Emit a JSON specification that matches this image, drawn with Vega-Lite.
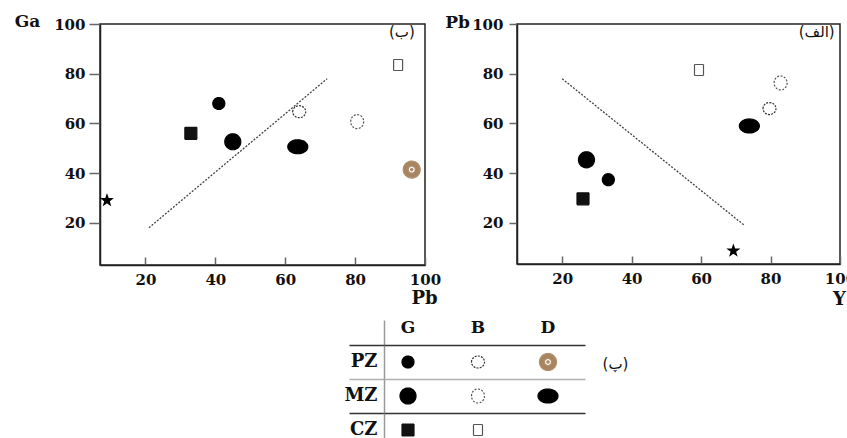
{
  "$schema": "https://vega.github.io/schema/vega-lite/v6.json",
  "background": "white",
  "padding": {"left": 13, "top": 11, "right": 0, "bottom": 0},
  "config": {
    "view": {"stroke": "#222", "strokeWidth": 1.5},
    "axis": {"labelFont": "DejaVu Serif", "labelFontWeight": "bold", "labelFontSize": 15, "labelColor": "#111", "titleFont": "DejaVu Serif", "titleFontWeight": "bold", "titleColor": "#111", "domainColor": "#222", "domainWidth": 1.5, "tickColor": "#666", "tickWidth": 1.5, "grid": false, "labelFlush": false}
  },
  "datasets": {
    "left": [
      {"Pb": 9, "Ga": 29, "t": "star"},
      {"Pb": 33, "Ga": 56, "t": "CZ-G"},
      {"Pb": 41, "Ga": 68, "t": "PZ-G"},
      {"Pb": 45, "Ga": 52.6, "t": "MZ-G"},
      {"Pb": 63.6, "Ga": 50.6, "t": "MZ-D"},
      {"Pb": 64, "Ga": 64.7, "t": "PZ-B"},
      {"Pb": 80.6, "Ga": 60.7, "t": "MZ-B"},
      {"Pb": 92.3, "Ga": 83.5, "t": "CZ-B"},
      {"Pb": 96.2, "Ga": 41.4, "t": "PZ-D"}
    ],
    "leftLine": [{"Pb": 21, "Ga": 18}, {"Pb": 72, "Ga": 78}],
    "right": [
      {"Y": 59.4, "Pb": 81.5, "t": "CZ-B"},
      {"Y": 82.9, "Pb": 76.3, "t": "MZ-B"},
      {"Y": 79.7, "Pb": 66, "t": "PZ-B"},
      {"Y": 73.9, "Pb": 59, "t": "MZ-D"},
      {"Y": 27, "Pb": 45.4, "t": "MZ-G"},
      {"Y": 33.3, "Pb": 37.4, "t": "PZ-G"},
      {"Y": 26, "Pb": 29.7, "t": "CZ-G"},
      {"Y": 69.3, "Pb": 8.8, "t": "star"}
    ],
    "rightLine": [{"Y": 20, "Pb": 78}, {"Y": 72.5, "Pb": 19}],
    "legend": [
      {"zone": "PZ", "rock": "G", "t": "PZ-G"},
      {"zone": "PZ", "rock": "B", "t": "PZ-B"},
      {"zone": "PZ", "rock": "D", "t": "PZ-D"},
      {"zone": "MZ", "rock": "G", "t": "MZ-G"},
      {"zone": "MZ", "rock": "B", "t": "MZ-B"},
      {"zone": "MZ", "rock": "D", "t": "MZ-D"},
      {"zone": "CZ", "rock": "G", "t": "CZ-G"},
      {"zone": "CZ", "rock": "B", "t": "CZ-B"}
    ]
  },
  "spacing": 9,
  "vconcat": [
    {
      "spacing": 1,
      "hconcat": [
        {
          "width": 325,
          "height": 241,
          "layer": [
            {
              "data": {"name": "leftLine"},
              "mark": {"type": "line", "strokeDash": [2, 1.5], "color": "#444", "strokeWidth": 1.3},
              "encoding": {
                "x": {"field": "Pb", "type": "quantitative", "scale": {"domain": [7, 100], "nice": false, "zero": false},
                  "axis": {"values": [20, 40, 60, 80, 100], "tickSize": -8, "labelPadding": 15, "title": "Pb", "titleFontSize": 18, "titleX": 324, "titleY": 33, "titleAlign": "center", "titleBaseline": "middle"}},
                "y": {"field": "Ga", "type": "quantitative", "scale": {"domain": [3, 100], "nice": false, "zero": false},
                  "axis": {"values": [20, 40, 60, 80, 100], "tickSize": 11, "labelPadding": 4, "title": "Ga", "titleFontSize": 17, "titleAngle": 0, "titleX": -73, "titleY": -3, "titleAlign": "center", "titleBaseline": "middle"}}
              }
            },
            {
              "data": {"name": "left"},
              "mark": {"type": "point", "filled": true, "size": 400, "strokeWidth": 1.2, "opacity": 1},
              "encoding": {
                "x": {"field": "Pb", "type": "quantitative"},
                "y": {"field": "Ga", "type": "quantitative"},
                "shape": {"field": "t", "type": "nominal", "legend": null, "scale": {"domain": ["PZ-G","MZ-G","PZ-B","MZ-B","PZ-D","MZ-D","CZ-G","CZ-B","star"], "range": ["M-0.6,0A0.6,0.6,0,1,1,0.6,0A0.6,0.6,0,1,1,-0.6,0Z","M-0.8,0A0.8,0.8,0,1,1,0.8,0A0.8,0.8,0,1,1,-0.8,0Z","M-0.65,0A0.65,0.6,0,1,1,0.65,0A0.65,0.6,0,1,1,-0.65,0Z","M-0.65,0A0.65,0.7,0,1,1,0.65,0A0.65,0.7,0,1,1,-0.65,0Z","M-0.85,0A0.85,0.85,0,1,1,0.85,0A0.85,0.85,0,1,1,-0.85,0ZM-0.35,0A0.35,0.35,0,1,0,0.35,0A0.35,0.35,0,1,0,-0.35,0ZM-0.12,0A0.12,0.12,0,1,1,0.12,0A0.12,0.12,0,1,1,-0.12,0Z","M-1,0A1,0.7,0,1,1,1,0A1,0.7,0,1,1,-1,0Z","M-0.6,-0.6H0.6V0.6H-0.6Z","M-0.45,-0.55H0.45V0.55H-0.45Z","M0,-0.55L0.129,-0.178L0.523,-0.17L0.209,0.068L0.323,0.445L0,0.22L-0.323,0.445L-0.209,0.068L-0.523,-0.17L-0.129,-0.178Z"]}},
                "fill": {"field": "t", "type": "nominal", "legend": null, "scale": {"domain": ["PZ-G","MZ-G","PZ-B","MZ-B","PZ-D","MZ-D","CZ-G","CZ-B","star"], "range": ["#000","#000","#fff","#fff","#a8845f","#000","#111","#fff","#000"]}},
                "stroke": {"field": "t", "type": "nominal", "legend": null, "scale": {"domain": ["PZ-G","MZ-G","PZ-B","MZ-B","PZ-D","MZ-D","CZ-G","CZ-B","star"], "range": ["#000","#000","#333","#555","#b08f6e","#000","#111","#555","#000"]}},
                "strokeDash": {"field": "t", "type": "nominal", "legend": null, "scale": {"domain": ["PZ-G","MZ-G","PZ-B","MZ-B","PZ-D","MZ-D","CZ-G","CZ-B","star"], "range": [[1,0],[1,0],[2,1.2],[2,1.5],[1,0],[1,0],[1,0],[1,0],[1,0]]}}
              }
            },
            {
              "data": {"values": [{}]},
              "mark": {"type": "text", "text": "(ب)", "font": "DejaVu Sans", "fontSize": 15, "color": "#111"},
              "encoding": {"x": {"datum": 93.4}, "y": {"datum": 96.8}}
            }
          ]
        },
        {
          "width": 323,
          "height": 240,
          "layer": [
            {
              "data": {"name": "rightLine"},
              "mark": {"type": "line", "strokeDash": [2, 1.5], "color": "#444", "strokeWidth": 1.3},
              "encoding": {
                "x": {"field": "Y", "type": "quantitative", "scale": {"domain": [7, 100], "nice": false, "zero": false},
                  "axis": {"values": [20, 40, 60, 80, 100], "tickSize": -8, "labelPadding": 15, "title": "Y", "titleFontSize": 18, "titleX": 322, "titleY": 35, "titleAlign": "center", "titleBaseline": "middle"}},
                "y": {"field": "Pb", "type": "quantitative", "scale": {"domain": [3.5, 100], "nice": false, "zero": false},
                  "axis": {"values": [20, 40, 60, 80, 100], "tickSize": 8, "labelPadding": 6, "title": "Pb", "titleFontSize": 17, "titleAngle": 0, "titleX": -60, "titleY": -2, "titleAlign": "center", "titleBaseline": "middle"}}
              }
            },
            {
              "data": {"name": "right"},
              "mark": {"type": "point", "filled": true, "size": 400, "strokeWidth": 1.2, "opacity": 1},
              "encoding": {
                "x": {"field": "Y", "type": "quantitative"},
                "y": {"field": "Pb", "type": "quantitative"},
                "shape": {"field": "t", "type": "nominal", "legend": null, "scale": {"domain": ["PZ-G","MZ-G","PZ-B","MZ-B","PZ-D","MZ-D","CZ-G","CZ-B","star"], "range": ["M-0.6,0A0.6,0.6,0,1,1,0.6,0A0.6,0.6,0,1,1,-0.6,0Z","M-0.8,0A0.8,0.8,0,1,1,0.8,0A0.8,0.8,0,1,1,-0.8,0Z","M-0.65,0A0.65,0.6,0,1,1,0.65,0A0.65,0.6,0,1,1,-0.65,0Z","M-0.65,0A0.65,0.7,0,1,1,0.65,0A0.65,0.7,0,1,1,-0.65,0Z","M-0.85,0A0.85,0.85,0,1,1,0.85,0A0.85,0.85,0,1,1,-0.85,0ZM-0.35,0A0.35,0.35,0,1,0,0.35,0A0.35,0.35,0,1,0,-0.35,0ZM-0.12,0A0.12,0.12,0,1,1,0.12,0A0.12,0.12,0,1,1,-0.12,0Z","M-1,0A1,0.7,0,1,1,1,0A1,0.7,0,1,1,-1,0Z","M-0.6,-0.6H0.6V0.6H-0.6Z","M-0.45,-0.55H0.45V0.55H-0.45Z","M0,-0.55L0.129,-0.178L0.523,-0.17L0.209,0.068L0.323,0.445L0,0.22L-0.323,0.445L-0.209,0.068L-0.523,-0.17L-0.129,-0.178Z"]}},
                "fill": {"field": "t", "type": "nominal", "legend": null, "scale": {"domain": ["PZ-G","MZ-G","PZ-B","MZ-B","PZ-D","MZ-D","CZ-G","CZ-B","star"], "range": ["#000","#000","#fff","#fff","#a8845f","#000","#111","#fff","#000"]}},
                "stroke": {"field": "t", "type": "nominal", "legend": null, "scale": {"domain": ["PZ-G","MZ-G","PZ-B","MZ-B","PZ-D","MZ-D","CZ-G","CZ-B","star"], "range": ["#000","#000","#333","#555","#b08f6e","#000","#111","#555","#000"]}},
                "strokeDash": {"field": "t", "type": "nominal", "legend": null, "scale": {"domain": ["PZ-G","MZ-G","PZ-B","MZ-B","PZ-D","MZ-D","CZ-G","CZ-B","star"], "range": [[1,0],[1,0],[2,1.2],[2,1.5],[1,0],[1,0],[1,0],[1,0],[1,0]]}}
              }
            },
            {
              "data": {"values": [{}]},
              "mark": {"type": "text", "text": "(الف)", "font": "DejaVu Sans", "fontSize": 15, "color": "#111"},
              "encoding": {"x": {"datum": 93.3}, "y": {"datum": 96.8}}
            }
          ]
        }
      ]
    },
    {
      "width": 472,
      "height": 102,
      "view": {"stroke": null},
      "data": {"name": "legend"},
      "layer": [
        {
          "mark": {"type": "point", "filled": true, "size": 400, "strokeWidth": 1.2, "opacity": 1},
          "encoding": {
            "x": {"field": "rock", "type": "nominal", "sort": ["G", "B", "D"],
              "scale": {"type": "band", "domain": ["G", "B", "D"], "range": [284, 472], "paddingInner": 0.314, "paddingOuter": 0},
              "axis": {"orient": "top", "title": null, "domain": false, "grid": false, "bandPosition": 0, "tickSize": 25,
                "tickColor": {"condition": {"test": "datum.value === 'G'", "value": "#999"}, "value": "transparent"},
                "labelPadding": -7, "labelBaseline": "middle", "labelAngle": 0, "labelFontSize": 17}},
            "y": {"field": "zone", "type": "nominal", "sort": ["PZ", "MZ", "CZ"],
              "scale": {"type": "band", "domain": ["PZ", "MZ", "CZ"], "paddingInner": 0, "paddingOuter": 0},
              "axis": {"orient": "left", "offset": -284, "title": null,
                "grid": false, "bandPosition": 0,
                "tickSize": 35, "tickWidth": 1.5,
                "tickColor": {"condition": {"test": "datum.value === 'MZ'", "value": "#b0b0b0"}, "value": "#333"},
                "labelPadding": -28, "labelFontSize": 18, "domainColor": "#999"}},
            "shape": {"field": "t", "type": "nominal", "legend": null, "scale": {"domain": ["PZ-G","MZ-G","PZ-B","MZ-B","PZ-D","MZ-D","CZ-G","CZ-B","star"], "range": ["M-0.6,0A0.6,0.6,0,1,1,0.6,0A0.6,0.6,0,1,1,-0.6,0Z","M-0.8,0A0.8,0.8,0,1,1,0.8,0A0.8,0.8,0,1,1,-0.8,0Z","M-0.65,0A0.65,0.6,0,1,1,0.65,0A0.65,0.6,0,1,1,-0.65,0Z","M-0.65,0A0.65,0.7,0,1,1,0.65,0A0.65,0.7,0,1,1,-0.65,0Z","M-0.85,0A0.85,0.85,0,1,1,0.85,0A0.85,0.85,0,1,1,-0.85,0ZM-0.35,0A0.35,0.35,0,1,0,0.35,0A0.35,0.35,0,1,0,-0.35,0ZM-0.12,0A0.12,0.12,0,1,1,0.12,0A0.12,0.12,0,1,1,-0.12,0Z","M-1,0A1,0.7,0,1,1,1,0A1,0.7,0,1,1,-1,0Z","M-0.6,-0.6H0.6V0.6H-0.6Z","M-0.45,-0.55H0.45V0.55H-0.45Z","M0,-0.55L0.129,-0.178L0.523,-0.17L0.209,0.068L0.323,0.445L0,0.22L-0.323,0.445L-0.209,0.068L-0.523,-0.17L-0.129,-0.178Z"]}},
            "fill": {"field": "t", "type": "nominal", "legend": null, "scale": {"domain": ["PZ-G","MZ-G","PZ-B","MZ-B","PZ-D","MZ-D","CZ-G","CZ-B","star"], "range": ["#000","#000","#fff","#fff","#a8845f","#000","#111","#fff","#000"]}},
            "stroke": {"field": "t", "type": "nominal", "legend": null, "scale": {"domain": ["PZ-G","MZ-G","PZ-B","MZ-B","PZ-D","MZ-D","CZ-G","CZ-B","star"], "range": ["#000","#000","#333","#555","#b08f6e","#000","#111","#555","#000"]}},
            "strokeDash": {"field": "t", "type": "nominal", "legend": null, "scale": {"domain": ["PZ-G","MZ-G","PZ-B","MZ-B","PZ-D","MZ-D","CZ-G","CZ-B","star"], "range": [[1,0],[1,0],[2,1.2],[2,1.5],[1,0],[1,0],[1,0],[1,0],[1,0]]}}
          }
        },
        {
          "mark": {"type": "point", "opacity": 0},
          "encoding": {
            "y": {"field": "zone", "type": "nominal",
              "axis": {"orient": "right", "offset": 13, "labels": false, "domain": false, "grid": false, "bandPosition": 0, "tickSize": -201, "tickWidth": 1.5,
                "tickColor": {"condition": {"test": "datum.value === 'MZ'", "value": "#b0b0b0"}, "value": "#333"},
                "title": "(پ)", "titleAngle": 0, "titleX": 30, "titleY": 18, "titleFont": "DejaVu Sans", "titleFontWeight": "normal", "titleFontSize": 15, "titleAlign": "center", "titleBaseline": "middle"}}
          }
        }
      ],
      "resolve": {"axis": {"y": "independent"}}
    }
  ]
}
